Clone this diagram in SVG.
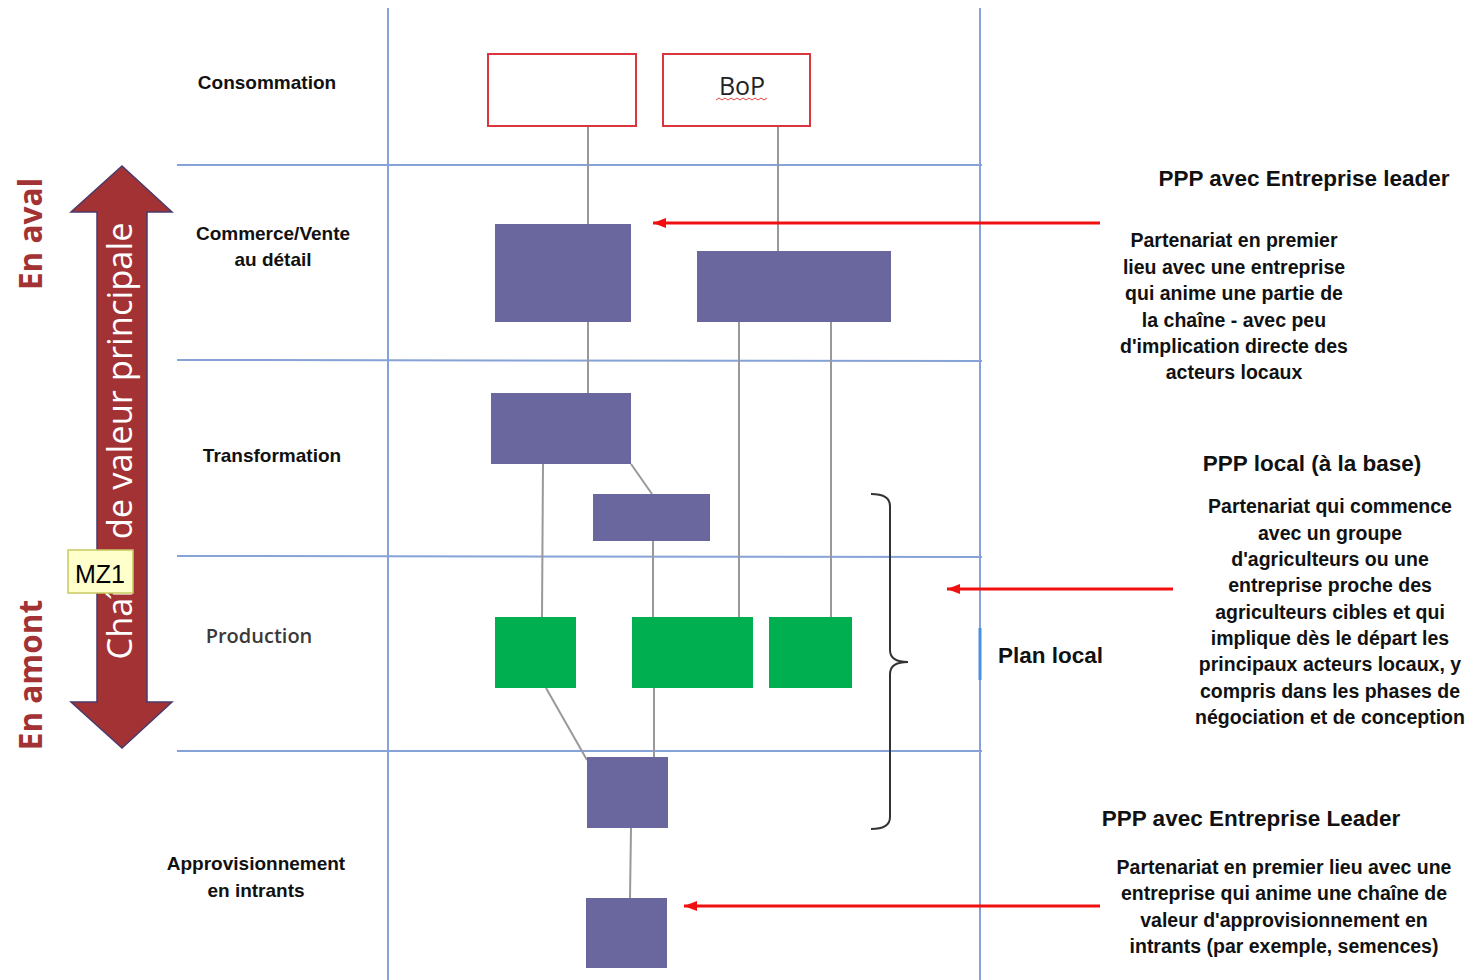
<svg xmlns="http://www.w3.org/2000/svg" width="1482" height="980" viewBox="0 0 1482 980">
<defs>
<style>
.grid{stroke:#86a2d6;stroke-width:2;fill:none}
.red{fill:#fff;stroke:#d9363e;stroke-width:2}
.pu{fill:#6a679e}
.gr{fill:#00b050}
.con{stroke:#999;stroke-width:2;fill:none}
.arr{stroke:#f01010;stroke-width:3;fill:none}
.lbl{font-family:"Liberation Sans",Arial,sans-serif;font-weight:bold;font-size:19px;fill:#111;text-anchor:middle}
.h{font-family:"Liberation Sans",Arial,sans-serif;font-weight:bold;font-size:22.5px;fill:#111;text-anchor:middle}
.p{font-family:"Liberation Sans",Arial,sans-serif;font-weight:bold;font-size:19.5px;fill:#111;text-anchor:middle}
.side{font-family:"Open Sans","Liberation Sans",sans-serif;font-weight:bold;font-size:31.5px;fill:#a33234;text-anchor:middle}
</style>
<marker id="ah" markerWidth="14" markerHeight="12" refX="13" refY="6" orient="auto" markerUnits="userSpaceOnUse">
<path d="M0,1 L13,6 L0,11 Z" fill="#f01010"/>
</marker>
</defs>
<rect width="1482" height="980" fill="#fff"/>
<g id="grid">
<line class="grid" x1="388" y1="8" x2="388" y2="980"/>
<line class="grid" x1="980" y1="8" x2="980" y2="628"/>
<line class="grid" x1="980" y1="680" x2="980" y2="980"/>
<line x1="980" y1="628" x2="980" y2="680" stroke="#4a90e2" stroke-width="3"/>
<line class="grid" x1="177" y1="165" x2="982" y2="165"/>
<line class="grid" x1="177" y1="360" x2="982" y2="361"/>
<line class="grid" x1="177" y1="556" x2="982" y2="557"/>
<line class="grid" x1="177" y1="751" x2="982" y2="751"/>
</g>
<g id="connectors">
<line class="con" x1="588" y1="126" x2="588" y2="224"/>
<line class="con" x1="778" y1="126" x2="778" y2="251"/>
<line class="con" x1="588" y1="322" x2="588" y2="393"/>
<line class="con" x1="543" y1="464" x2="542" y2="617"/>
<line class="con" x1="631" y1="464" x2="652" y2="494"/>
<line class="con" x1="653" y1="541" x2="653" y2="617"/>
<line class="con" x1="739" y1="322" x2="739" y2="617"/>
<line class="con" x1="831" y1="322" x2="831" y2="617"/>
<line class="con" x1="546" y1="688" x2="587" y2="760"/>
<line class="con" x1="654" y1="688" x2="654" y2="757"/>
<line class="con" x1="631" y1="828" x2="630" y2="898"/>
<path d="M871,494 Q890,494 890,506 L890,650 Q890,662 908,662 Q890,662 890,674 L890,817 Q890,829 871,829" stroke="#333" stroke-width="2" fill="none"/>
<line class="arr" x1="1100" y1="223" x2="653" y2="223" marker-end="url(#ah)"/>
<line class="arr" x1="1173" y1="589" x2="947" y2="589" marker-end="url(#ah)"/>
<line class="arr" x1="1100" y1="906" x2="684" y2="906" marker-end="url(#ah)"/>
</g>
<g id="cons1"><rect class="red" x="488" y="54" width="148" height="72"/></g>
<g id="bop"><rect class="red" x="663" y="54" width="147" height="72"/>
<text x="742" y="95" font-family="Open Sans,Liberation Sans,sans-serif" font-size="25" fill="#222" text-anchor="middle">BoP</text>
<path d="M716,100 l3,-2 l3,2 l3,-2 l3,2 l3,-2 l3,2 l3,-2 l3,2 l3,-2 l3,2 l3,-2 l3,2 l3,-2 l3,2 l3,-2 l3,2 l3,-2" stroke="#e84040" stroke-width="1" fill="none"/>
</g>
<g id="com1"><rect class="pu" x="495" y="224" width="136" height="98"/></g>
<g id="com2"><rect class="pu" x="697" y="251" width="194" height="71"/></g>
<g id="tr1"><rect class="pu" x="491" y="393" width="140" height="71"/></g>
<g id="tr2"><rect class="pu" x="593" y="494" width="117" height="47"/></g>
<g id="pr1"><rect class="gr" x="495" y="617" width="81" height="71"/></g>
<g id="pr2"><rect class="gr" x="632" y="617" width="121" height="71"/></g>
<g id="pr3"><rect class="gr" x="769" y="617" width="83" height="71"/></g>
<g id="ap1"><rect class="pu" x="587" y="757" width="81" height="71"/></g>
<g id="ap2"><rect class="pu" x="586" y="898" width="81" height="70"/></g>
<g id="bigarrow">
<path d="M122,166 L172,212 L147,212 L147,702 L172,702 L122,748 L71,702 L97,702 L97,212 L71,212 Z" fill="#a33234" stroke="#4a3a6a" stroke-width="1.5"/>
<text transform="translate(132,441) rotate(-90)" font-family="Open Sans,Liberation Sans,sans-serif" font-size="34.5" fill="#fff" text-anchor="middle">Chaîne de valeur principale</text>
</g>
<g id="mz1">
<rect x="68" y="550" width="65" height="43" fill="#ffffcc" stroke="#c8c860" stroke-width="1.5"/>
<text x="100" y="583" font-family="Liberation Sans,Arial,sans-serif" font-size="25" fill="#000" text-anchor="middle">MZ1</text>
</g>
<g id="side">
<text class="side" transform="translate(42,234) rotate(-90)">En aval</text>
<text class="side" transform="translate(42,675) rotate(-90)">En amont</text>
</g>
<g id="labels">
<text class="lbl" x="267" y="89">Consommation</text>
<text class="lbl" x="273" y="240">Commerce/Vente</text>
<text class="lbl" x="273" y="266">au détail</text>
<text class="lbl" x="272" y="462">Transformation</text>
<text x="259" y="643" style="font-family:'Open Sans','Liberation Sans',sans-serif;font-weight:600;font-size:20px;fill:#3a3a3a;text-anchor:middle">Production</text>
<text class="h" x="998" y="663" style="text-anchor:start">Plan local</text>
<text class="lbl" x="256" y="870">Approvisionnement</text>
<text class="lbl" x="256" y="897">en intrants</text>
</g>
<g id="right">
<text class="h" x="1304" y="186">PPP avec Entreprise leader</text>
<text class="p" x="1234" y="247">Partenariat en premier</text>
<text class="p" x="1234" y="274">lieu avec une entreprise</text>
<text class="p" x="1234" y="300">qui anime une partie de</text>
<text class="p" x="1234" y="327">la chaîne - avec peu</text>
<text class="p" x="1234" y="353">d'implication directe des</text>
<text class="p" x="1234" y="379">acteurs locaux</text>
<text class="h" x="1312" y="471">PPP local (à la base)</text>
<text class="p" x="1330" y="513">Partenariat qui commence</text>
<text class="p" x="1330" y="540">avec un groupe</text>
<text class="p" x="1330" y="566">d'agriculteurs ou une</text>
<text class="p" x="1330" y="592">entreprise proche des</text>
<text class="p" x="1330" y="619">agriculteurs cibles et qui</text>
<text class="p" x="1330" y="645">implique dès le départ les</text>
<text class="p" x="1330" y="671">principaux acteurs locaux, y</text>
<text class="p" x="1330" y="698">compris dans les phases de</text>
<text class="p" x="1330" y="724">négociation et de conception</text>
<text class="h" x="1251" y="826">PPP avec Entreprise Leader</text>
<text class="p" x="1284" y="874">Partenariat en premier lieu avec une</text>
<text class="p" x="1284" y="900">entreprise qui anime une chaîne de</text>
<text class="p" x="1284" y="927">valeur d'approvisionnement en</text>
<text class="p" x="1284" y="953">intrants (par exemple, semences)</text>
</g>
</svg>
